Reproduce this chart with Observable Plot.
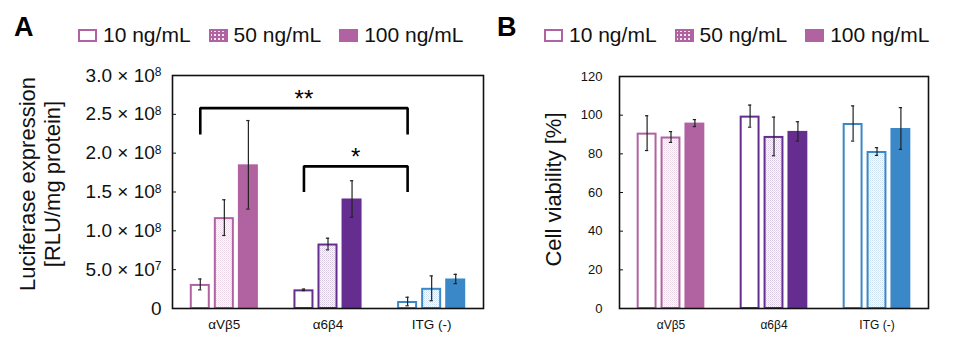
<!DOCTYPE html>
<html>
<head>
<meta charset="utf-8">
<script src="https://cdn.jsdelivr.net/npm/d3@7"></script>
<script src="https://cdn.jsdelivr.net/npm/@observablehq/plot@0.6"></script>
<style>
  body { margin: 0; background: #fff; font-family: "Liberation Sans", Arial, Helvetica, sans-serif; }
  #root { position: relative; width: 955px; height: 345px; overflow: hidden; background: #fff; }
  .panel { position: absolute; top: 0; }
  .panel svg { overflow: visible; }
  .title { position: absolute; top: 12px; font-weight: bold; font-size: 27px; color: #000; z-index: 2; }
  .legend { position: absolute; top: 23px; display: flex; align-items: center; gap: 18px; font-size: 21px; color: #111; z-index: 2; white-space: nowrap; }
  .item { display: flex; align-items: center; gap: 6px; }
  .item svg { display: block; }
</style>
</head>
<body>
<svg width="0" height="0" style="position:absolute"><defs id="defs"></defs></svg>
<div id="root"></div>
<script>
// ---------- data ----------
const groups = ["αVβ5", "α6β4", "ITG (-)"];
const concentrations = ["10 ng/mL", "50 ng/mL", "100 ng/mL"];
const groupColors = ["#b062a1", "#662d91", "#3a88c8"];

// Panel A: luciferase expression [RLU/mg protein], rows = groups, cols = concentrations
const luciferaseMean = [
  [3.1e7, 1.17e8, 1.85e8],
  [2.4e7, 8.3e7, 1.41e8],
  [0.9e7, 2.6e7, 3.8e7]
];
const luciferaseSD = [
  [0.7e7, 2.3e7, 5.7e7],
  [0.1e7, 0.75e7, 2.35e7],
  [0.55e7, 1.6e7, 0.6e7]
];
const luciferaseTicks = [0, 5e7, 1e8, 1.5e8, 2e8, 2.5e8, 3e8];
const luciferaseTickLabels = ["0", "5.0 × 10^7", "1.0 × 10^8", "1.5 × 10^8", "2.0 × 10^8", "2.5 × 10^8", "3.0 × 10^8"];

// significance brackets on panel A (group indices of the 10 ng/mL bars)
const significance = [
  {from: 0, to: 2, label: "**", top: 2.58e8, bottom: 2.24e8},
  {from: 1, to: 2, label: "*", top: 1.83e8, bottom: 1.50e8}
];

// Panel B: cell viability [%]
const viabilityMean = [
  [90.7, 88.7, 95.9],
  [99.5, 89.0, 91.6],
  [95.7, 81.2, 93.1]
];
const viabilitySD = [
  [9.0, 2.8, 1.8],
  [5.7, 10.0, 5.0],
  [9.1, 2.0, 10.8]
];
const viabilityTicks = [0, 20, 40, 60, 80, 100, 120];

// ---------- layout helpers ----------
const STEP = 0.232, BW = 0.193;
const center = (i, j) => i + 0.5 + (j - 1) * STEP;

// patterns for the 50 ng/mL bars
const defs = d3.select("#defs");
groupColors.forEach((c, i) => {
  const p = defs.append("pattern").attr("id", `dots-${i}`).attr("patternUnits", "userSpaceOnUse")
    .attr("width", 2).attr("height", 2);
  p.append("rect").attr("width", 2).attr("height", 2).attr("fill", "#fff");
  p.append("rect").attr("width", 1).attr("height", 1).attr("fill", c).attr("fill-opacity", 0.28);
  p.append("rect").attr("x", 1).attr("y", 1).attr("width", 1).attr("height", 1).attr("fill", c).attr("fill-opacity", 0.18);
  const q = defs.append("pattern").attr("id", `swatch-${i}`).attr("patternUnits", "userSpaceOnUse")
    .attr("width", 4).attr("height", 4);
  q.append("rect").attr("width", 4).attr("height", 4).attr("fill", c);
  q.append("rect").attr("x", 1).attr("y", 1).attr("width", 2).attr("height", 2).attr("fill", "#fff").attr("fill-opacity", 0.85);
});

function rowsOf(mean, sd) {
  return groups.flatMap((g, i) => concentrations.map((c, j) => ({g, i, c, j, v: mean[i][j], e: sd[i][j]})));
}
const fillOf = d => d.j === 0 ? "#ffffff" : d.j === 1 ? `url(#dots-${d.i})` : groupColors[d.i];

function barMarks(rows) {
  return [
    Plot.rectY(rows, {
      x1: d => center(d.i, d.j) - BW / 2,
      x2: d => center(d.i, d.j) + BW / 2,
      y1: 0, y2: d => d.v,
      fill: fillOf, stroke: d => groupColors[d.i], strokeWidth: 2,
      insetLeft: 1, insetRight: 1, insetTop: 1
    }),
    Plot.ruleX(rows, {x: d => center(d.i, d.j), y1: d => d.v - d.e, y2: d => d.v + d.e, stroke: "#222", strokeWidth: 1.2}),
    Plot.ruleY(rows, {y: d => d.v + d.e, x1: d => center(d.i, d.j) - 0.016, x2: d => center(d.i, d.j) + 0.016, stroke: "#222", strokeWidth: 1.2}),
    Plot.ruleY(rows, {y: d => d.v - d.e, x1: d => center(d.i, d.j) - 0.016, x2: d => center(d.i, d.j) + 0.016, stroke: "#222", strokeWidth: 1.2})
  ];
}

const root = d3.select("#root");

// ---------- Panel A ----------
const rowsA = rowsOf(luciferaseMean, luciferaseSD);
const bracketLines = significance.map(s => [
  {x: center(s.from, 0), y: s.bottom},
  {x: center(s.from, 0), y: s.top},
  {x: center(s.to, 0), y: s.top},
  {x: center(s.to, 0), y: s.bottom}
]);
const plotA = Plot.plot({
  width: 490, height: 345,
  marginLeft: 172, marginRight: 7, marginTop: 75, marginBottom: 37,
  style: {fontFamily: "Liberation Sans, Arial, sans-serif", background: "transparent", color: "#111"},
  color: {type: "identity"},
  x: {domain: [0, 3], axis: null},
  y: {domain: [0, 3e8], axis: null},
  marks: [
    ...barMarks(rowsA),
    ...bracketLines.map(pts => Plot.line(pts, {x: "x", y: "y", stroke: "#000", strokeWidth: 2.6, strokeLinejoin: "miter", strokeLinecap: "butt"})),
    Plot.text(significance, {x: s => (center(s.from, 0) + center(s.to, 0)) / 2, y: "top", text: "label", fontSize: 24, dy: -9, fill: "#000"}),
    Plot.frame({stroke: "#111", strokeWidth: 1.6}),
    Plot.axisY(luciferaseTicks, {tickSize: -4, text: null, stroke: "#111", label: null}),
    Plot.axisY(luciferaseTicks, {tickSize: 0, tickPadding: 11, fontSize: 19, label: null, tickFormat: d => luciferaseTickLabels[luciferaseTicks.indexOf(d)]}),
    Plot.axisX([0.5, 1.5, 2.5], {tickSize: 0, tickPadding: 11, fontSize: 13.5, label: null, tickFormat: d => groups[Math.floor(d)]}),
    Plot.text(["Luciferase expression\n[RLU/mg protein]"], {frameAnchor: "left", textAnchor: "middle", lineAnchor: "middle", rotate: -90, dx: -133, dy: -8, fontSize: 22, lineHeight: 1.15, fill: "#111"})
  ]
});
// superscript exponents on the tick labels
d3.select(plotA).selectAll('g[aria-label="y-axis tick label"] text').each(function () {
  const m = this.textContent.match(/^(.*)\^(\d+)$/);
  if (m) {
    const t = d3.select(this);
    t.text(m[1]);
    t.append("tspan").attr("dy", "-0.45em").attr("font-size", "12px").text(m[2]);
  }
});
root.append("div").attr("class", "panel").style("left", "0px").node().appendChild(plotA);

// ---------- Panel B ----------
const rowsB = rowsOf(viabilityMean, viabilitySD);
const plotB = Plot.plot({
  width: 465, height: 345,
  marginLeft: 129, marginRight: 27, marginTop: 76, marginBottom: 37,
  style: {fontFamily: "Liberation Sans, Arial, sans-serif", background: "transparent", color: "#111"},
  color: {type: "identity"},
  x: {domain: [0, 3], axis: null},
  y: {domain: [0, 120], axis: null},
  marks: [
    ...barMarks(rowsB),
    Plot.frame({stroke: "#111", strokeWidth: 1.6}),
    Plot.axisY(viabilityTicks, {tickSize: -4, text: null, stroke: "#111", label: null}),
    Plot.axisY(viabilityTicks, {tickSize: 0, tickPadding: 17, fontSize: 13, label: null}),
    Plot.axisX([0.5, 1.5, 2.5], {tickSize: 0, tickPadding: 12, fontSize: 12, label: null, tickFormat: d => groups[Math.floor(d)]}),
    Plot.text(["Cell viability [%]"], {frameAnchor: "left", textAnchor: "middle", lineAnchor: "middle", rotate: -90, dx: -66, dy: -3, fontSize: 22, fill: "#111"})
  ]
});
root.append("div").attr("class", "panel").style("left", "490px").node().appendChild(plotB);

// ---------- titles & legends ----------
root.append("div").attr("class", "title").style("left", "14px").text("A");
root.append("div").attr("class", "title").style("left", "497px").text("B");

function legend(left) {
  const lg = root.append("div").attr("class", "legend").style("left", left + "px");
  concentrations.forEach((c, j) => {
    const it = lg.append("div").attr("class", "item");
    const s = it.append("svg").attr("width", 19).attr("height", 13);
    s.append("rect").attr("x", 1).attr("y", 1).attr("width", 17).attr("height", 11)
      .attr("fill", j === 0 ? "#fff" : j === 1 ? "url(#swatch-0)" : groupColors[0])
      .attr("stroke", groupColors[0]).attr("stroke-width", 2);
    it.append("span").text(c);
  });
}
legend(78);
legend(544);
</script>
</body>
</html>
